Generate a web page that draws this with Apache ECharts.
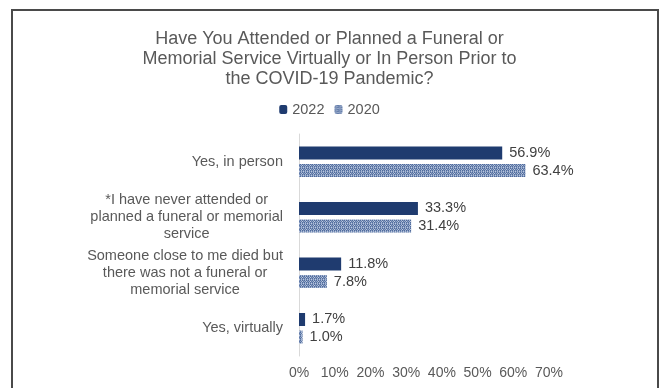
<!DOCTYPE html>
<html>
<head>
<meta charset="utf-8">
<script src="https://cdn.jsdelivr.net/npm/echarts@6/dist/echarts.min.js"></script>
<style>
  html, body { margin: 0; padding: 0; background: #fff; }
  #chart { width: 659px; height: 388px; }
</style>
</head>
<body>
<div id="chart"></div>
<script>
const categories = [
  'Yes, in person',
  '*I have never attended or\nplanned a funeral or memorial\nservice',
  'Someone close to me died but\nthere was not a funeral or\nmemorial service',
  'Yes, virtually'
];
const values2022 = [56.9, 33.3, 11.8, 1.7];
const values2020 = [63.4, 31.4, 7.8, 1.0];
const seriesNames = ['2022', '2020'];
const titleText = 'Have You Attended or Planned a Funeral or\nMemorial Service Virtually or In Person Prior to\nthe COVID-19 Pandemic?';

const FONT = '"Liberation Sans", Arial, sans-serif';

// Small dotted texture for the 2020 bars
function makeTexture() {
  const c = document.createElement('canvas');
  c.width = 4; c.height = 4;
  const ctx = c.getContext('2d');
  const px = [
    ['#4f6b9c', '#a9b8d4', '#4f6b9c', '#8296bd'],
    ['#8ea2c5', '#5f7aa8', '#bcc8de', '#5f7aa8'],
    ['#4f6b9c', '#a9b8d4', '#4f6b9c', '#8296bd'],
    ['#6f88b3', '#9fb0cf', '#6f88b3', '#bcc8de']
  ];
  for (let y = 0; y < 4; y++) {
    for (let x = 0; x < 4; x++) {
      ctx.fillStyle = px[y][x];
      ctx.fillRect(x, y, 1, 1);
    }
  }
  return c;
}

const chart = echarts.init(document.getElementById('chart'), null, { renderer: 'canvas' });

const labelFmt = p => p.value.toFixed(1) + '%';

chart.setOption({
  animation: false,
  backgroundColor: '#ffffff',
  textStyle: { fontFamily: FONT },
  graphic: [{
    type: 'rect',
    shape: { x: 12, y: 10, width: 646, height: 420 },
    style: { fill: 'none', stroke: '#4a4a4a', lineWidth: 2 },
    silent: true
  }],
  title: {
    text: titleText,
    left: 'center',
    top: 24,
    textStyle: {
      fontFamily: FONT,
      fontSize: 18,
      fontWeight: 'normal',
      lineHeight: 20,
      color: '#595959'
    }
  },
  legend: {
    data: seriesNames,
    top: 97,
    left: 'center',
    itemWidth: 8,
    itemHeight: 9,
    itemGap: 10,
    textStyle: { fontFamily: FONT, fontSize: 14.5, color: '#595959' }
  },
  grid: {
    left: 299,
    right: 110,
    top: 134,
    bottom: 32,
    containLabel: false,
    outerBoundsMode: 'none'
  },
  xAxis: {
    type: 'value',
    min: 0,
    max: 70,
    interval: 10,
    axisLine: { show: false },
    axisTick: { show: false },
    splitLine: { show: false },
    axisLabel: {
      formatter: '{value}%',
      margin: 10,
      fontFamily: FONT,
      fontSize: 14,
      color: '#595959'
    }
  },
  yAxis: {
    type: 'category',
    data: categories,
    inverse: true,
    axisLine: { show: true, lineStyle: { color: '#d9d9d9', width: 1 } },
    axisTick: { show: false },
    axisLabel: {
      margin: 16,
      formatter: v => '{c|' + v + '}',
      rich: {
        c: {
          align: 'center',
          fontFamily: FONT,
          fontSize: 14.5,
          lineHeight: 17,
          color: '#595959'
        }
      }
    }
  },
  series: [
    {
      name: seriesNames[0],
      type: 'bar',
      data: values2022,
      barWidth: 13,
      barGap: '35%',
      itemStyle: { color: '#1f3b6f' },
      label: {
        show: true,
        position: 'right',
        distance: 7,
        formatter: labelFmt,
        fontFamily: FONT,
        fontSize: 14.5,
        color: '#404040'
      }
    },
    {
      name: seriesNames[1],
      type: 'bar',
      data: values2020,
      barWidth: 13,
      barGap: '35%',
      itemStyle: { color: { image: makeTexture(), repeat: 'repeat' } },
      label: {
        show: true,
        position: 'right',
        distance: 7,
        formatter: labelFmt,
        fontFamily: FONT,
        fontSize: 14.5,
        color: '#404040'
      }
    }
  ]
});
</script>
</body>
</html>
